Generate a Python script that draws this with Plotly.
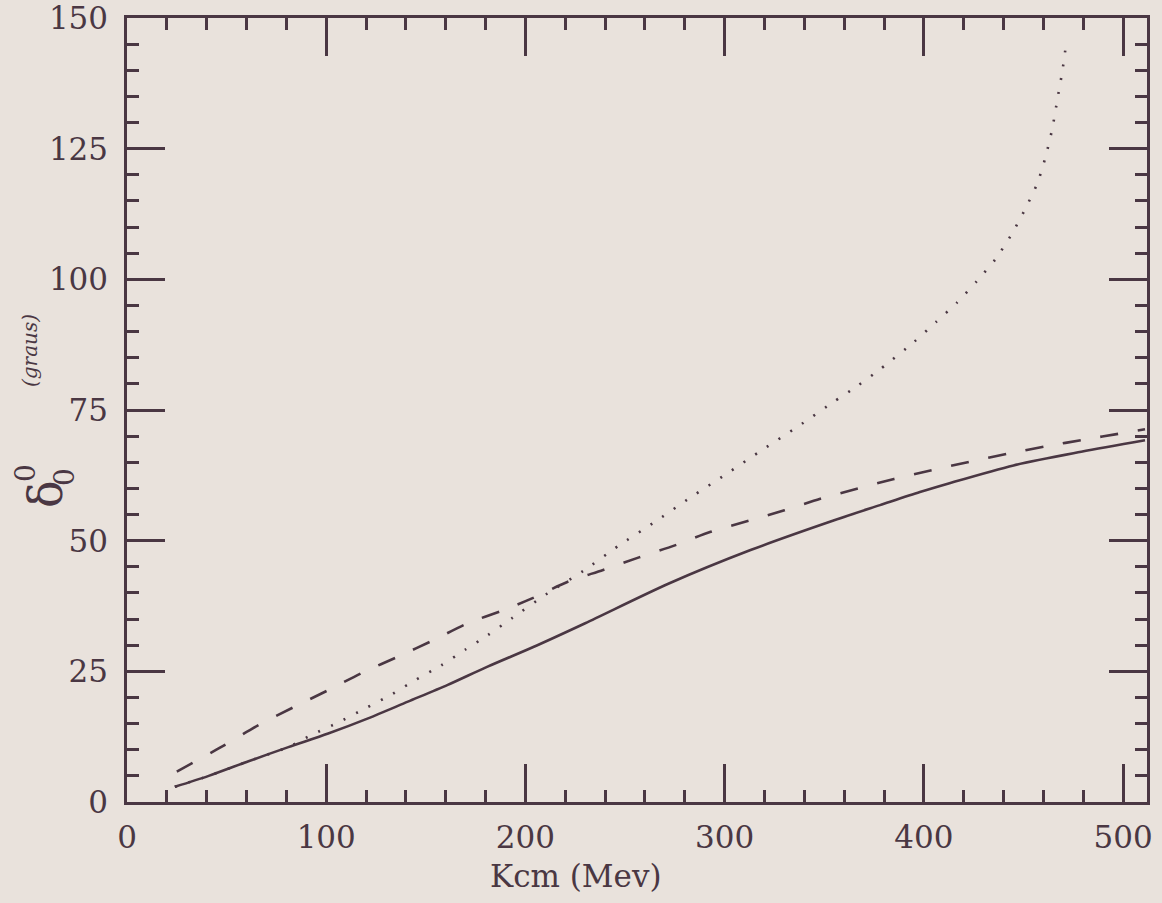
import plotly.graph_objects as go

# ---- data ----
solid_x = [24, 41, 61, 81, 101, 121, 141, 161, 181, 206, 230, 272, 313, 355, 378, 398, 412, 445, 479, 511]
solid_y = [2.9, 5.0, 7.8, 10.5, 13.1, 16.0, 19.2, 22.4, 25.9, 30.0, 34.2, 41.8, 48.2, 53.9, 56.8, 59.3, 60.9, 64.4, 67.0, 69.2]

dashed_x = [25, 47.6, 66, 84, 101, 119, 136, 154, 171, 189, 203, 221, 239, 257, 275, 293, 312, 330, 348,
            367, 385, 404, 423, 443, 462, 480, 500, 511]
dashed_y = [5.8, 10.6, 14.7, 18.2, 21.4, 24.9, 27.8, 31.0, 34.2, 36.7, 38.9, 42.1, 44.4, 46.8, 49.1, 51.7,
            53.8, 55.8, 58.0, 60.0, 61.8, 63.5, 65.1, 66.7, 68.1, 69.3, 70.6, 71.3]

dotted_x = [24, 41, 61, 81, 86, 93, 106, 119.5, 132.5, 145, 157.6, 169.6, 181, 193, 211, 229, 247, 265, 283,
            301, 319, 337, 354.5, 367, 378.4, 395, 406, 416.5, 426.5, 436, 444, 450.8, 457, 461.2,
            464.5, 467, 469.5, 471.5]
dotted_y = [2.9, 5.0, 7.8, 10.5, 11.5, 12.9, 15.2, 17.9, 20.5, 23.4, 26.1, 29.1, 31.9, 35.1, 39.9, 44.2,
            49.1, 53.6, 58.3, 62.8, 67.4, 71.9, 76.5, 79.7, 82.9, 88.0, 91.8, 95.5, 99.6, 103.9, 108.6,
            113.4, 118.4, 123.6, 128.9, 134.4, 139.8, 145.3]

x_ticks = [0, 100, 200, 300, 400, 500]
y_ticks = [0, 25, 50, 75, 100, 125, 150]

INK = "#4a3743"
BG = "#e9e2dc"
FONT = "DejaVu Serif"

fig = go.Figure()
fig.add_trace(go.Scatter(x=dotted_x, y=dotted_y, mode="lines", line_shape="spline",
                         line=dict(color=INK, width=2.6, dash="2px,12px", smoothing=0.6), showlegend=False))
fig.add_trace(go.Scatter(x=dashed_x, y=dashed_y, mode="lines", line_shape="spline",
                         line=dict(color=INK, width=2.6, dash="18px,20px", smoothing=0.8), showlegend=False))
fig.add_trace(go.Scatter(x=solid_x, y=solid_y, mode="lines", line_shape="spline",
                         line=dict(color=INK, width=2.6, smoothing=0.8), showlegend=False))

axis_common = dict(
    showgrid=False, zeroline=False, showline=True, linecolor=INK, linewidth=2.5,
    mirror="ticks", ticks="inside", tickcolor=INK, tickwidth=2.5, ticklen=38,
    tickfont=dict(family=FONT, size=31, color=INK),
    automargin=False, ticklabeloverflow="allow",
)

fig.update_xaxes(range=[0, 512], tickvals=x_ticks, ticktext=[str(v) for v in x_ticks],
                 minor=dict(dtick=20, tick0=0, ticks="inside", ticklen=12, tickwidth=2.5, tickcolor=INK),
                 ticklabelstandoff=6, **axis_common)
fig.update_yaxes(range=[0, 150], tickvals=y_ticks, ticktext=[str(v) for v in y_ticks],
                 minor=dict(dtick=5, tick0=0, ticks="inside", ticklen=12, tickwidth=2.5, tickcolor=INK),
                 ticklabelstandoff=10, **axis_common)

L, R, T, B = 127, 15, 18, 101
PW, PH = 1162 - L - R, 903 - T - B


def px2paper(px, py):
    return (px - L) / PW, (903 - B - py) / PH


annots = []
ax, ay = px2paper(576, 876)
annots.append(dict(text="Kcm (Mev)", x=ax, y=ay, font=dict(family=FONT, size=31, color=INK)))
ax, ay = px2paper(46, 494)
annots.append(dict(text="δ", x=ax, y=ay, textangle=-90, font=dict(family=FONT, size=46, color=INK)))
ax, ay = px2paper(26, 473)
annots.append(dict(text="0", x=ax, y=ay, textangle=-90, font=dict(family=FONT, size=28, color=INK)))
ax, ay = px2paper(64, 477)
annots.append(dict(text="0", x=ax, y=ay, textangle=-90, font=dict(family=FONT, size=28, color=INK)))
ax, ay = px2paper(30, 351)
annots.append(dict(text="(graus)", x=ax, y=ay, textangle=-90,
                   font=dict(family=FONT, size=20, color=INK, style="italic")))
for a in annots:
    a.update(xref="paper", yref="paper", showarrow=False, xanchor="center", yanchor="middle")

fig.update_layout(
    width=1162, height=903,
    margin=dict(l=L, r=R, t=T, b=B, autoexpand=False),
    paper_bgcolor=BG, plot_bgcolor=BG,
    annotations=annots,
)

fig.write_html("out.html", config={"displayModeBar": False},
               post_script="document.body.style.margin='0';document.body.style.background='%s';" % BG)
